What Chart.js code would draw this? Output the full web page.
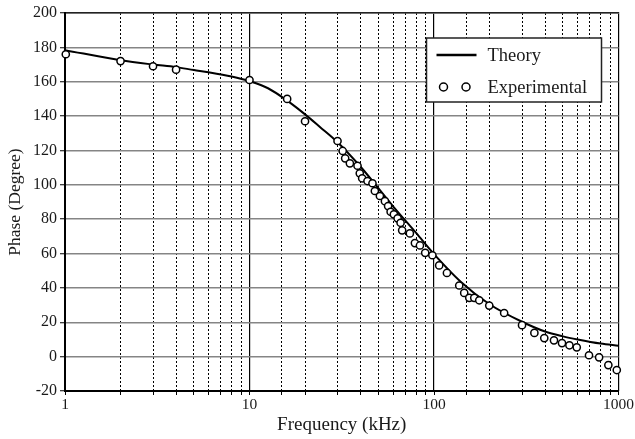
<!DOCTYPE html>
<html>
<head>
<meta charset="utf-8">
<script src="https://cdn.jsdelivr.net/npm/chart.js@4.4.1/dist/chart.umd.min.js"></script>
<style>
html,body{margin:0;padding:0;background:#fff;}
#wrap{width:635px;height:439px;position:relative;}
</style>
</head>
<body>
<div id="wrap"><canvas id="c" width="635" height="439"></canvas></div>
<script>
// ---- data ----
const theoryFreq  = [1, 2, 3, 4, 5, 6, 8, 10, 12.6, 16, 20, 24, 30, 40, 60, 80, 100, 140, 200, 300, 400, 500, 600, 800, 1000];
const theoryPhase = [178.4, 172.5, 170, 168.5, 166.8, 165.5, 163, 160.3, 156.2, 149, 141, 133.8, 124.8, 110.5, 87.5, 72, 59.7, 43.5, 30.5, 20.3, 14.6, 11.8, 10, 7.6, 6.3];
const expFreq  = [1.01, 2, 3, 4, 10, 16, 20, 30, 32, 33, 35, 38.5, 39.6, 40.8, 43.6, 46.4, 47.8, 50.9, 54.2, 56.4, 58.2, 60.6, 63.5, 65.9, 67.2, 74, 78.8, 83.9, 89.6, 98, 106.7, 117.5, 137, 145.8, 155.3, 165.3, 175.9, 199.3, 240, 300, 350, 396, 447, 494, 542, 594, 692, 785, 881, 979];
const expPhase = [176, 172, 169, 167, 161, 150, 137, 125.5, 119.7, 115.4, 112.5, 111.1, 106.7, 103.8, 102.2, 100.9, 96.4, 93.5, 90.5, 87.6, 84.3, 82.8, 80.5, 77.9, 73.5, 71.7, 66.1, 64.7, 60.4, 59, 53.1, 48.7, 41.4, 37.1, 34.2, 34.2, 32.8, 29.7, 25.4, 18.3, 13.8, 10.8, 9.5, 7.9, 6.6, 5.4, 0.8, -0.4, -4.9, -7.8];
const xLabels = [1, 10, 100, 1000];
const yMin = -20, yMax = 200, yStep = 20;
const seriesNames = ['Theory', 'Experimental'];
const xTitle = 'Frequency (kHz)';
const yTitle = 'Phase (Degree)';

const FONT = "'Liberation Serif', 'Times New Roman', serif";
Chart.defaults.font.family = FONT;
Chart.defaults.color = '#1a1a1a';

const isMajor = v => xLabels.includes(v);

const legendPlugin = {
  id: 'customLegend',
  afterDraw(chart) {
    const {ctx, chartArea} = chart;
    const w = 175, h = 64;
    const x0 = chartArea.right - 17 - w, y0 = chartArea.top + 25;
    ctx.save();
    ctx.fillStyle = '#fff';
    ctx.fillRect(x0, y0, w, h);
    ctx.strokeStyle = '#222';
    ctx.lineWidth = 1.5;
    ctx.strokeRect(x0, y0, w, h);
    const r1 = y0 + 17, r2 = y0 + 49;
    ctx.strokeStyle = '#000';
    ctx.lineWidth = 2.5;
    ctx.beginPath(); ctx.moveTo(x0 + 10, r1); ctx.lineTo(x0 + 50, r1); ctx.stroke();
    ctx.lineWidth = 1.5;
    [x0 + 17, x0 + 39.5].forEach(cx => {
      ctx.beginPath(); ctx.arc(cx, r2, 4, 0, Math.PI * 2);
      ctx.fillStyle = '#fff'; ctx.fill(); ctx.stroke();
    });
    ctx.fillStyle = '#1a1a1a';
    ctx.font = "18.5px " + FONT;
    ctx.textBaseline = 'middle';
    ctx.textAlign = 'left';
    ctx.fillText(seriesNames[0], x0 + 61, r1 + 1);
    ctx.fillText(seriesNames[1], x0 + 61, r2 + 1);
    ctx.restore();
  }
};

new Chart(document.getElementById('c'), {
  type: 'scatter',
  data: {
    datasets: [
      {
        label: seriesNames[0],
        data: theoryFreq.map((f, i) => ({x: f, y: theoryPhase[i]})),
        showLine: true,
        borderColor: '#000',
        borderWidth: 2,
        pointRadius: 0,
        cubicInterpolationMode: 'monotone',
        order: 2
      },
      {
        label: seriesNames[1],
        data: expFreq.map((f, i) => ({x: f, y: expPhase[i]})),
        showLine: false,
        clip: false,
        pointStyle: 'circle',
        pointRadius: 3.6,
        pointBorderWidth: 1.5,
        borderColor: '#000',
        backgroundColor: '#fff',
        order: 1
      }
    ]
  },
  options: {
    responsive: false,
    animation: false,
    events: [],
    layout: {padding: {left: 0, top: 13, right: 16, bottom: 0}},
    plugins: {legend: {display: false}, tooltip: {enabled: false}},
    scales: {
      x: {
        type: 'logarithmic',
        position: 'bottom',
        min: 1, max: 1000,
        afterFit: s => { s.height = 48; },
        grid: {
          color: c => (c.tick && isMajor(c.tick.value)) ? 'rgba(0,0,0,0)' : '#000',
          lineWidth: 1,
          drawTicks: true,
          tickLength: 4,
          tickColor: '#000',
          tickWidth: 1
        },
        border: {display: true, color: '#000', width: 2, dash: [2, 2]},
        ticks: {
          autoSkip: false,
          maxRotation: 0,
          padding: 1,
          font: {size: 15.5},
          callback: v => isMajor(v) ? String(v) : ''
        },
        title: {display: true, text: xTitle, font: {size: 19}, padding: {top: 2, bottom: 3}}
      },
      x2: {
        type: 'logarithmic',
        position: 'top',
        min: 1, max: 1000,
        afterFit: s => { s.height = 0; },
        afterBuildTicks: s => { s.ticks = s.ticks.filter(t => isMajor(t.value)); },
        grid: {color: '#000', lineWidth: 1.2, drawTicks: false},
        border: {display: true, color: '#222', width: 1.5},
        ticks: {display: false}
      },
      y: {
        min: yMin, max: yMax,
        afterFit: s => { s.width = 65; },
        grid: {color: '#858585', lineWidth: 1.5, drawTicks: true, tickLength: 5, tickColor: '#000', tickWidth: 1},
        border: {display: true, color: '#000', width: 2},
        ticks: {stepSize: yStep, padding: 3, font: {size: 16}},
        title: {display: true, text: yTitle, font: {size: 17.5}, padding: {top: 5, bottom: 2}}
      }
    }
  },
  plugins: [legendPlugin]
});
</script>
</body>
</html>
